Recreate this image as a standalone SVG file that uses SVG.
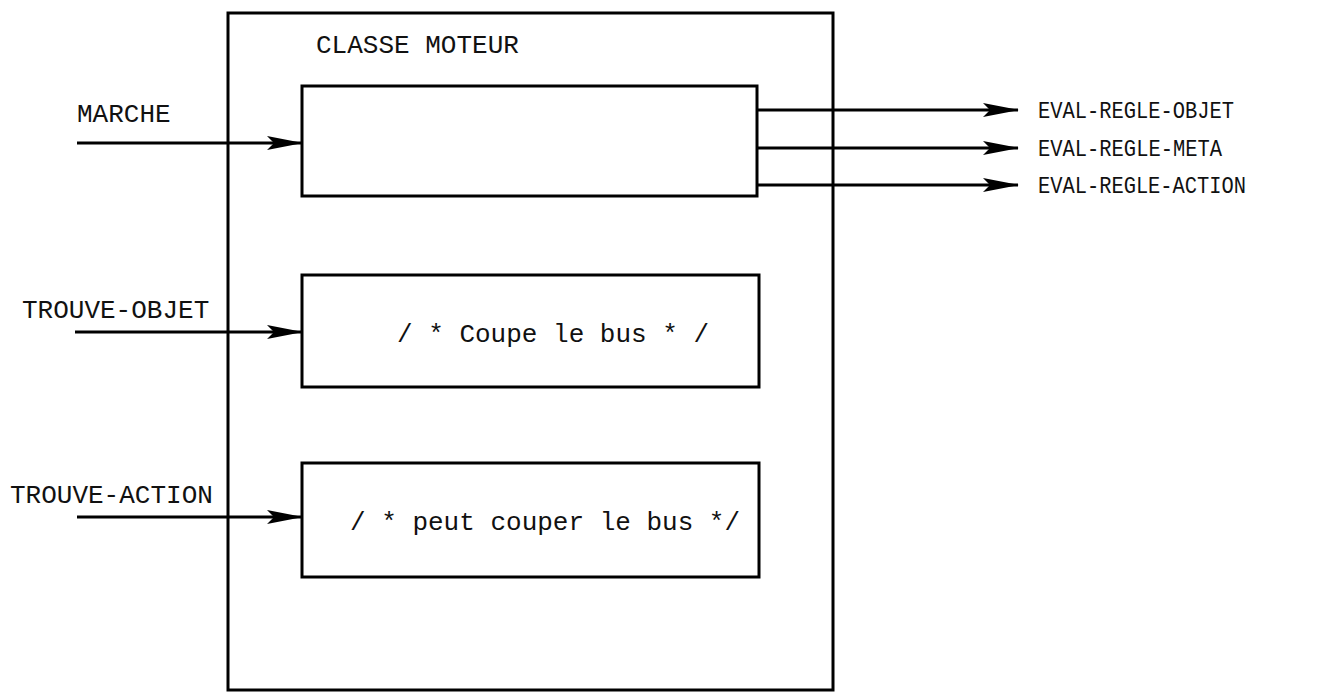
<svg xmlns="http://www.w3.org/2000/svg" width="1343" height="694" viewBox="0 0 1343 694">
<style>
.box{fill:none;stroke:#000;stroke-width:3}
.ln{stroke:#000;stroke-width:3;fill:none}
text{font-family:"Liberation Mono","DejaVu Sans Mono",monospace;font-size:26px;fill:#111}
text.out{font-size:24px}
</style>
<defs>
<marker id="ah" viewBox="0 0 36 14" refX="35" refY="7" markerWidth="36" markerHeight="14" markerUnits="userSpaceOnUse" orient="auto">
<path d="M0,0 L36,7 L0,14 L7,7 Z" fill="#000"/>
</marker>
</defs>
<rect width="1343" height="694" fill="#fff"/>
<g id="classe-moteur">
<rect class="box" x="228" y="13" width="605" height="677"/>
<text x="316" y="53">CLASSE MOTEUR</text>
</g>
<g id="box-marche">
<rect class="box" x="302" y="86" width="455" height="110"/>
</g>
<g id="box-coupe">
<rect class="box" x="302" y="275" width="457" height="112"/>
<text x="397" y="342">/ * Coupe le bus * /</text>
</g>
<g id="box-peut">
<rect class="box" x="302" y="463" width="457" height="114"/>
<text x="350" y="530">/ * peut couper le bus */</text>
</g>
<g id="labels">
<text x="77" y="122">MARCHE</text>
<text x="22" y="318">TROUVE-OBJET</text>
<text x="10" y="503">TROUVE-ACTION</text>
<text class="out" x="1038" y="118" textLength="196" lengthAdjust="spacingAndGlyphs">EVAL-REGLE-OBJET</text>
<text class="out" x="1038" y="156" textLength="184" lengthAdjust="spacingAndGlyphs">EVAL-REGLE-META</text>
<text class="out" x="1038" y="193" textLength="208" lengthAdjust="spacingAndGlyphs">EVAL-REGLE-ACTION</text>
</g>
<g id="connectors">
<line class="ln" x1="77" y1="143" x2="302" y2="143" marker-end="url(#ah)"/>
<line class="ln" x1="75" y1="332" x2="302" y2="332" marker-end="url(#ah)"/>
<line class="ln" x1="77" y1="517" x2="302" y2="517" marker-end="url(#ah)"/>
<line class="ln" x1="757" y1="110" x2="1018" y2="110" marker-end="url(#ah)"/>
<line class="ln" x1="757" y1="148" x2="1018" y2="148" marker-end="url(#ah)"/>
<line class="ln" x1="757" y1="185" x2="1018" y2="185" marker-end="url(#ah)"/>
</g>
</svg>
